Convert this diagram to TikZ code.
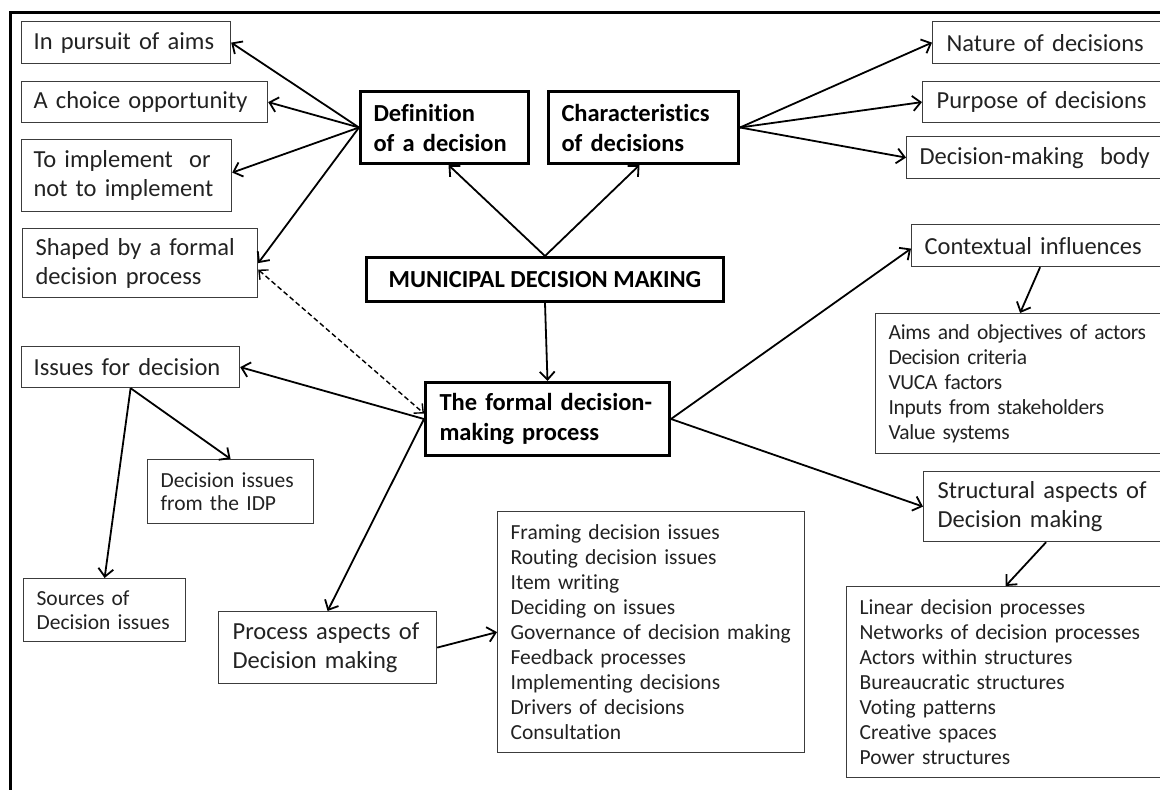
\documentclass[tikz,border=0pt]{standalone}
\usepackage{fontspec}
\setmainfont{Carlito}[Ligatures=NoCommon]
\newfontfamily\tightfont{Carlito}[Ligatures=NoCommon, WordSpace=0.55, LetterSpace=-1.5]
\usetikzlibrary{arrows.meta}
\definecolor{inkgray}{HTML}{222222}
\definecolor{edgegray}{HTML}{3C3C3C}
\newcommand\bigtext{\fontsize{24.5}{29}\selectfont}
\newcommand\headtext{\fontsize{24.5}{30}\selectfont\bfseries}
\newcommand\listtext{\fontsize{21.5}{25}\selectfont}
\newcommand\tightlisttext{\tightfont\fontsize{21.5}{25}\selectfont}
\newcommand\smalltext{\fontsize{21.5}{23.5}\selectfont}

\begin{document}
\begin{tikzpicture}[x=1pt,y=-1pt,
  thinbox/.style={draw=edgegray, line width=1.2pt, text=inkgray, anchor=north west,
    align=left, inner xsep=12pt, inner ysep=0pt, font=\bigtext},
  listbox/.style={thinbox, inner xsep=13pt, font=\listtext},
  smallbox/.style={thinbox, inner xsep=13pt, font=\smalltext},
  boldbox/.style={draw=black, line width=3pt, text=black, anchor=north west,
    align=left, inner xsep=13pt, inner ysep=0pt, font=\headtext},
  link/.style={draw=black, line width=1.8pt,
    -{Straight Barb[length=8pt,width=15pt,line width=1.8pt]}},
  twoway/.style={draw=black, line width=1.4pt, dash pattern=on 5pt off 3pt,
    {Straight Barb[length=7pt,width=13pt,line width=1.4pt]}-{Straight Barb[length=7pt,width=13pt,line width=1.4pt]}},
  frameline/.style={draw=black, line width=3pt}
]
\useasboundingbox (0,0) rectangle (1160,790);

% outer frame (left and top sides)
\draw[frameline] (10,791) -- (10,12) -- (1161,12);

% central concepts
\node[boldbox, align=center, minimum width=357pt, minimum height=44pt] (municipal) at (365,256)
  {MUNICIPAL DECISION MAKING};
\node[boldbox, text width=142pt, minimum height=72pt] (definition) at (359,90)
  {Definition\\of a decision};
\node[boldbox, text width=164pt, minimum height=72pt] (characteristics) at (547,90)
  {Characteristics\\of decisions};
\node[boldbox, inner xsep=14pt, text width=216pt, minimum height=73pt] (formal) at (424,381)
  {The formal decision-\\making process};

% definition of a decision
\node[thinbox, text width=185pt, minimum height=42pt] (pursuit) at (21,21) {In pursuit of aims};
\node[thinbox, text width=222pt, minimum height=41pt] (choice) at (21,81) {A choice opportunity};
\node[thinbox, text width=186pt, minimum height=72pt] (implement) at (21,139)
  {To implement\ \ or\\not to implement};
\node[thinbox, inner xsep=13pt, text width=209pt, minimum height=69pt] (shaped) at (22,228)
  {Shaped by a formal\\decision process};

% characteristics of decisions
\node[thinbox, inner xsep=14pt, text width=204pt, minimum height=42pt] (nature) at (932,21)
  {Nature of decisions};
\node[thinbox, inner xsep=14pt, text width=214pt, minimum height=41pt] (purpose) at (922,81)
  {Purpose of decisions};
\node[thinbox, inner xsep=13pt, text width=232pt, minimum height=42pt] (body) at (906,136)
  {Decision-making\ \ body};

% contextual influences
\node[thinbox, inner xsep=13pt, text width=227pt, minimum height=42pt] (contextual) at (911,224)
  {Contextual~influences};
\node[listbox, font=\tightlisttext, text width=263pt, minimum height=140pt] (contextlist) at (875,313)
  {Aims~and~objectives~of~actors\\Decision criteria\\VUCA factors\\Inputs~from~stakeholders\\Value systems};

% structural aspects
\node[thinbox, inner xsep=14pt, text width=213pt, minimum height=70pt] (structural) at (923,471)
  {Structural~aspects~of\\Decision~making};
\node[listbox, text width=292pt, minimum height=191pt] (structlist) at (846,586)
  {Linear decision processes\\Networks~of~decision~processes\\Actors within structures\\Bureaucratic structures\\Voting patterns\\Creative spaces\\Power structures};

% issues for decision
\node[thinbox, text width=194pt, minimum height=41pt] (issues) at (21,346) {Issues for decision};
\node[smallbox, text width=140pt, minimum height=64pt] (idp) at (147,459)
  {Decision~issues\\from the IDP};
\node[smallbox, text width=136pt, minimum height=63pt] (sources) at (23,578)
  {Sources of\\Decision~issues};

% process aspects
\node[thinbox, inner xsep=14pt, text width=190pt, minimum height=72pt] (process) at (218,611)
  {Process~aspects~of\\Decision~making};
\node[listbox, text width=281pt, minimum height=241pt] (proclist) at (497,511)
  {Framing decision issues\\Routing decision issues\\Item writing\\Deciding on issues\\Governance~of~decision~making\\Feedback processes\\Implementing decisions\\Drivers of decisions\\Consultation};

% connectors
\draw[link] (municipal.north) -- ([xshift=4pt]definition.south);
\draw[link] (municipal.north) -- ([xshift=-4pt]characteristics.south);
\draw[link] (municipal.south) -- (formal.north);

\draw[link] (definition.west) -- (pursuit.east);
\draw[link] (definition.west) -- (choice.east);
\draw[link] (definition.west) -- ([yshift=3pt]implement.east);
\draw[link] (definition.west) -- (shaped.east);

\draw[link] (characteristics.east) -- (nature.west);
\draw[link] (characteristics.east) -- (purpose.west);
\draw[link] (characteristics.east) -- (body.west);

\draw[twoway] ([yshift=-6.5pt]shaped.east) -- ([yshift=5.5pt]formal.west);
\draw[link] (formal.west) -- (issues.east);
\draw[link] (formal.west) -- (process.north);
\draw[link] (formal.east) -- ([yshift=-3pt]contextual.west);
\draw[link] (formal.east) -- (structural.west);

\draw[link] (issues.south) -- (idp.north);
\draw[link] (issues.south) -- (sources.north);

\draw[link] ([xshift=2pt]contextual.south) -- (contextlist.north);
\draw[link] ([xshift=2pt]structural.south) -- (structlist.north);
\draw[link] (process.east) -- (proclist.west);
\end{tikzpicture}
\end{document}
